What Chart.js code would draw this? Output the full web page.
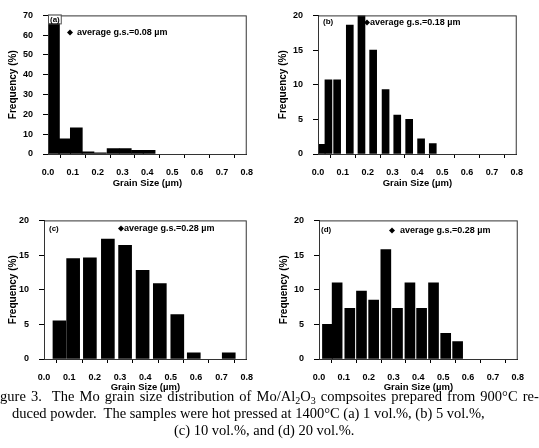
<!DOCTYPE html>
<html>
<head>
<meta charset="utf-8">
<script src="https://cdn.jsdelivr.net/npm/chart.js@4.4.1/dist/chart.umd.min.js"></script>
<style>
  html, body { margin: 0; padding: 0; background: #fff; }
  #page { position: relative; width: 539px; height: 448px; overflow: hidden; background: #fff; }
  canvas { position: absolute; }
  .cap { position: absolute; white-space: nowrap; font-family: "Liberation Serif", "DejaVu Serif", serif; font-size: 14.5px; color: #000; line-height: 16px; }
  .cap sub { font-size: 10px; line-height: 0; vertical-align: -3px; }
</style>
</head>
<body>
<div id="page">
  <canvas id="pa" width="262" height="192" style="left:0px;top:0px"></canvas>
  <canvas id="pb" width="262" height="192" style="left:270px;top:0px"></canvas>
  <canvas id="pc" width="262" height="191" style="left:0px;top:205px"></canvas>
  <canvas id="pd" width="262" height="191" style="left:271px;top:205px"></canvas>
  <div class="cap" style="left:-12px;top:388px;word-spacing:1.5px">Figure 3.&nbsp; The Mo grain size distribution of Mo/Al<sub>2</sub>O<sub>3</sub> compsoites prepared from 900°C re-</div>
  <div class="cap" style="left:12px;top:405px">duced powder.&nbsp; The samples were hot pressed at 1400°C (a) 1 vol.%, (b) 5 vol.%,</div>
  <div class="cap" style="left:174px;top:422px">(c) 10 vol.%, and (d) 20 vol.%.</div>
</div>
<script>
// grain size bins (bar centres, µm) and frequency (%) for each panel
const sizeA = [0.022, 0.067, 0.114, 0.161, 0.211, 0.262, 0.311, 0.360, 0.407];
const freqA = [69.5, 7.6, 13.2, 1.1, 0.6, 2.7, 2.7, 1.9, 1.9];

const sizeB = [0.015, 0.042, 0.077, 0.128, 0.175, 0.222, 0.272, 0.319, 0.367, 0.415, 0.462];
const freqB = [1.4, 10.7, 10.7, 18.6, 20.0, 15.0, 9.3, 5.6, 5.0, 2.2, 1.5];

const sizeC = [0.061, 0.115, 0.181, 0.252, 0.320, 0.389, 0.457, 0.526, 0.591, 0.729];
const freqC = [5.5, 14.5, 14.6, 17.3, 16.4, 12.8, 10.9, 6.4, 0.9, 0.9];

const sizeD = [0.034, 0.073, 0.124, 0.171, 0.220, 0.269, 0.316, 0.366, 0.413, 0.461, 0.510, 0.558];
const freqD = [5.0, 11.0, 7.3, 9.8, 8.5, 15.8, 7.3, 11.0, 7.3, 11.0, 3.7, 2.5];

const xTickValues = [0, 0.1, 0.2, 0.3, 0.4, 0.5, 0.6, 0.7, 0.8];
const panelTags = ["(a)", "(b)", "(c)", "(d)"];
const avgLabels = ["average g.s.=0.08 µm", "average g.s.=0.18 µm", "average g.s.=0.28 µm", "average g.s.=0.28 µm"];

const X_TITLE = "Grain Size (µm)";
const Y_TITLE = "Frequency (%)";
const FONT = "'Liberation Sans', Arial, sans-serif";

// frame + panel tag + average legend
const decor = {
  id: "decor",
  afterDraw(chart, args, o) {
    const { ctx, chartArea: a } = chart;
    ctx.save();
    ctx.strokeStyle = "#333";
    ctx.lineWidth = 1;
    ctx.strokeRect(a.left + 0.5, a.top + 0.5, a.right - a.left - 1, a.bottom - a.top);

    // panel tag
    ctx.font = "bold 8px " + FONT;
    ctx.textBaseline = "middle";
    ctx.textAlign = "left";
    const tw = ctx.measureText(o.tag).width;
    if (o.tagBox) {
      ctx.fillStyle = "#fff";
      ctx.fillRect(a.left + o.tagX - 1, a.top + o.tagY - 4, tw + 2, 8);
      ctx.strokeStyle = "#555";
      ctx.strokeRect(a.left + o.tagX - 1.5, a.top + o.tagY - 4.5, tw + 3, 9);
    }
    ctx.fillStyle = "#000";
    ctx.fillText(o.tag, a.left + o.tagX, a.top + o.tagY);

    // legend diamond + text
    const dx = a.left + o.legX, dy = a.top + o.legY;
    ctx.beginPath();
    ctx.moveTo(dx, dy - 3);
    ctx.lineTo(dx + 3, dy);
    ctx.lineTo(dx, dy + 3);
    ctx.lineTo(dx - 3, dy);
    ctx.closePath();
    ctx.fill();
    ctx.font = "bold 9px " + FONT;
    ctx.fillText(o.legText, a.left + o.legTextX, dy);
    ctx.restore();
  }
};

function makePanel(canvasId, sizes, freqs, opt) {
  const el = document.getElementById(canvasId);
  return new Chart(el, {
    type: "bar",
    data: {
      datasets: [{
        data: sizes.map((s, i) => ({ x: s, y: freqs[i] })),
        backgroundColor: "#000",
        borderWidth: 0,
        barThickness: opt.barW
      }]
    },
    options: {
      responsive: false,
      animation: false,
      layout: { padding: { top: 9, right: opt.padR, bottom: 0, left: 0 } },
      scales: {
        x: {
          type: "linear",
          offset: false,
          min: 0,
          max: 0.8,
          afterFit(axis) { axis.height = opt.xH; },
          afterBuildTicks(axis) {
            axis.ticks = xTickValues.map(v => ({ value: v }));
          },
          ticks: {
            callback: v => Number(v).toFixed(1),
            font: { family: FONT, size: 9, weight: "bold" },
            color: "#000",
            padding: 9,
            maxRotation: 0,
            autoSkip: false
          },
          grid: { drawOnChartArea: false, drawTicks: true, tickLength: 4, color: "#000" },
          border: { color: "#000", width: 1 },
          title: {
            display: true,
            text: X_TITLE,
            font: { family: FONT, size: 9.5, weight: "bold" },
            color: "#000",
            padding: { top: 0, bottom: 3 }
          }
        },
        y: {
          min: 0,
          max: opt.yMax,
          afterFit(axis) { axis.width = opt.yW; },
          ticks: {
            stepSize: opt.yStep,
            font: { family: FONT, size: 9, weight: "bold" },
            color: "#000",
            padding: 10
          },
          grid: { drawOnChartArea: false, drawTicks: true, tickLength: 5, color: "#000" },
          border: { color: "#000", width: 1 },
          title: {
            display: true,
            text: Y_TITLE,
            font: { family: FONT, size: 10, weight: "bold" },
            color: "#000",
            padding: { top: 7, bottom: 0 }
          }
        }
      },
      plugins: {
        legend: { display: false },
        tooltip: { enabled: false },
        decor: opt.decor
      }
    },
    plugins: [decor]
  });
}

makePanel("pa", sizeA, freqA, {
  barW: 12, yMax: 70, yStep: 10, yW: 48, padR: 15, xH: 38,
  decor: { tag: panelTags[0], tagX: 2, tagY: 4, tagBox: true, legX: 22, legY: 17, legTextX: 29, legText: avgLabels[0] }
});
makePanel("pb", sizeB, freqB, {
  barW: 7, yMax: 20, yStep: 5, yW: 48, padR: 15, xH: 38,
  decor: { tag: panelTags[1], tagX: 5, tagY: 6, tagBox: false, legX: 49, legY: 7, legTextX: 52, legText: avgLabels[1] }
});
makePanel("pc", sizeC, freqC, {
  barW: 13, yMax: 20, yStep: 5, yW: 44, padR: 15, xH: 37,
  decor: { tag: panelTags[2], tagX: 5, tagY: 8, tagBox: false, legX: 77, legY: 8, legTextX: 80, legText: avgLabels[2] }
});
makePanel("pd", sizeD, freqD, {
  barW: 10, yMax: 20, yStep: 5, yW: 48, padR: 15, xH: 37,
  decor: { tag: panelTags[3], tagX: 2, tagY: 9, tagBox: false, legX: 73, legY: 10, legTextX: 81, legText: avgLabels[3] }
});
</script>
</body>
</html>
